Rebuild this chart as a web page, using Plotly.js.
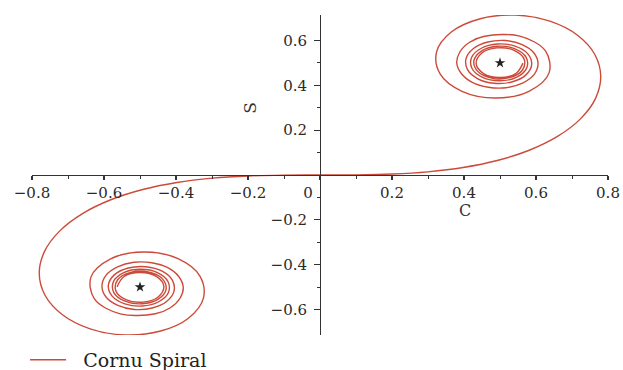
<!DOCTYPE html>
<html>
<head>
<meta charset="utf-8">
<script src="https://cdn.plot.ly/plotly-3.0.1.min.js"></script>
<style>html,body{margin:0;padding:0;background:#fff;}#chart{width:623px;height:370px;}</style>
</head>
<body>
<div id="chart"></div>
<script>
// Cornu spiral points (C, S), t from -5 to 5
const cornuC = [
-0.5636,-0.5451,-0.5002,-0.4546,-0.4338,-0.4488,-0.4914,-0.5391,-0.5672,-0.5620,
-0.5260,-0.4771,-0.4383,-0.4275,-0.4494,-0.4940,-0.5417,-0.5726,-0.5737,-0.5452,
-0.4984,-0.4516,-0.4223,-0.4210,-0.4481,-0.4936,-0.5420,-0.5773,-0.5880,-0.5714,
-0.5326,-0.4835,-0.4385,-0.4098,-0.4057,-0.4262,-0.4663,-0.5155,-0.5616,-0.5944,
-0.6057,-0.5946,-0.5624,-0.5171,-0.4675,-0.4228,-0.3925,-0.3798,-0.3889,-0.4157,
-0.4574,-0.5550,-0.6266,-0.6363,-0.5816,-0.4883,-0.3945,-0.3336,-0.3238,-0.3655,
-0.4453,-0.5431,-0.6386,-0.7154,-0.7638,-0.7799,-0.7648,-0.7228,-0.6597,-0.5811,
-0.4923,-0.3975,-0.2994,-0.1999,-0.1000,
0,
0.1000,0.1999,0.2994,0.3975,0.4923,0.5811,0.6597,0.7228,0.7648,0.7799,
0.7638,0.7154,0.6386,0.5431,0.4453,0.3655,0.3238,0.3336,0.3945,0.4883,
0.5816,0.6363,0.6266,0.5550,0.4574,0.4157,0.3889,0.3798,0.3925,0.4228,
0.4675,0.5171,0.5624,0.5946,0.6057,0.5944,0.5616,0.5155,0.4663,0.4262,
0.4057,0.4098,0.4385,0.4835,0.5326,0.5714,0.5880,0.5773,0.5420,0.4936,
0.4481,0.4210,0.4223,0.4516,0.4984,0.5452,0.5737,0.5726,0.5417,0.4940,
0.4494,0.4275,0.4383,0.4771,0.5260,0.5620,0.5672,0.5391,0.4914,0.4488,
0.4338,0.4546,0.5002,0.5451,0.5636
];
const cornuS = [
-0.4992,-0.4541,-0.4351,-0.4526,-0.4968,-0.5432,-0.5671,-0.5562,-0.5162,-0.4675,
-0.4343,-0.4322,-0.4623,-0.5101,-0.5540,-0.5747,-0.5632,-0.5249,-0.4758,-0.4357,
-0.4205,-0.4356,-0.4752,-0.5245,-0.5656,-0.5847,-0.5750,-0.5405,-0.4923,-0.4457,
-0.4152,-0.4092,-0.4293,-0.4700,-0.5193,-0.5644,-0.5934,-0.5999,-0.5818,-0.5446,
-0.4963,-0.4479,-0.4101,-0.3895,-0.3915,-0.4136,-0.4529,-0.5012,-0.5500,-0.5923,
-0.6192,-0.6197,-0.5531,-0.4557,-0.3742,-0.3434,-0.3732,-0.4509,-0.5492,-0.6389,
-0.6975,-0.7135,-0.6863,-0.6234,-0.5365,-0.4383,-0.3398,-0.2493,-0.1721,-0.1105,
-0.0647,-0.0334,-0.0141,-0.0042,-0.0005,
0,
0.0005,0.0042,0.0141,0.0334,0.0647,0.1105,0.1721,0.2493,0.3398,0.4383,
0.5365,0.6234,0.6863,0.7135,0.6975,0.6389,0.5492,0.4509,0.3732,0.3434,
0.3742,0.4557,0.5531,0.6197,0.6192,0.5923,0.5500,0.5012,0.4529,0.4136,
0.3915,0.3895,0.4101,0.4479,0.4963,0.5446,0.5818,0.5999,0.5934,0.5644,
0.5193,0.4700,0.4293,0.4092,0.4152,0.4457,0.4923,0.5405,0.5750,0.5847,
0.5656,0.5245,0.4752,0.4356,0.4205,0.4357,0.4758,0.5249,0.5632,0.5747,
0.5540,0.5101,0.4623,0.4322,0.4343,0.4675,0.5162,0.5562,0.5671,0.5432,
0.4968,0.4526,0.4351,0.4541,0.4992
];
// Limit points (stars)
const starC = [0.5, -0.5];
const starS = [0.5, -0.5];

const seriesName = 'Cornu Spiral';
const xTitle = 'C';
const yTitle = 'S';

const xTickVals = [-0.8,-0.6,-0.4,-0.2,0,0.2,0.4,0.6,0.8];
const xTickText = ['\u22120.8','\u22120.6','\u22120.4','\u22120.2','0\u00a0\u00a0\u00a0\u00a0\u00a0','0.2','0.4','0.6','0.8'];
const xMinorVals = [-0.7,-0.5,-0.3,-0.1,0.1,0.3,0.5,0.7];
const yTickVals = [-0.6,-0.4,-0.2,0.2,0.4,0.6];
const yTickText = ['\u22120.6','\u22120.4','\u22120.2','0.2','0.4','0.6'];
const yMinorVals = [-0.5,-0.3,-0.1,0.1,0.3,0.5];

const FONT = 'DejaVu Serif, Liberation Serif, serif';
const AX = '#333333';

const traces = [
  {
    x: cornuC, y: cornuS, type: 'scatter', mode: 'lines', name: '\u00a0\u00a0' + seriesName,
    line: {color: '#cc4a3a', width: 1.4, shape: 'spline', smoothing: 1},
    hoverinfo: 'skip'
  },
  {
    x: starC, y: starS, type: 'scatter', mode: 'markers', showlegend: false,
    marker: {symbol: 'star', size: 8, color: '#222222'},
    hoverinfo: 'skip'
  }
];

const axisCommon = {
  showline: true, linecolor: AX, linewidth: 1.3,
  ticks: 'outside', tickcolor: AX, tickwidth: 1.2,
  showgrid: false, zeroline: false,
  tickmode: 'array',
  tickfont: {family: FONT, size: 15, color: '#2a2a2a'},
  anchor: 'free', position: 0.5
};

const layout = {
  width: 623, height: 370,
  margin: {l: 32, r: 15, t: 15, b: 35, autoexpand: false},
  paper_bgcolor: '#ffffff', plot_bgcolor: '#ffffff',
  showlegend: true,
  xaxis: Object.assign({}, axisCommon, {
    range: [-0.8, 0.8], tickvals: xTickVals, ticktext: xTickText, ticklen: 4,
    minor: {tickmode: 'array', tickvals: xMinorVals, ticks: 'outside', ticklen: 3, tickcolor: AX, tickwidth: 1}
  }),
  yaxis: Object.assign({}, axisCommon, {
    range: [-0.714, 0.714], tickvals: yTickVals, ticktext: yTickText, ticklen: 6,
    ticklabelstandoff: 4,
    minor: {tickmode: 'array', tickvals: yMinorVals, ticks: 'outside', ticklen: 3, tickcolor: AX, tickwidth: 1}
  }),
  legend: {
    x: -0.012, y: -0.078, xanchor: 'left', yanchor: 'middle',
    bgcolor: 'rgba(0,0,0,0)', borderwidth: 0, itemwidth: 36,
    font: {family: FONT, size: 19, color: '#222222'}
  },
  annotations: [
    {text: xTitle, xref: 'paper', yref: 'paper', x: 0.765, y: 0.39, showarrow: false,
     font: {family: FONT, size: 16, color: '#333333'}},
    {text: yTitle, xref: 'paper', yref: 'paper', x: 0.378, y: 0.734, showarrow: false, textangle: -90,
     font: {family: FONT, size: 17, color: '#333333'}}
  ]
};

Plotly.newPlot('chart', traces, layout, {displayModeBar: false, staticPlot: true});
</script>
</body>
</html>
